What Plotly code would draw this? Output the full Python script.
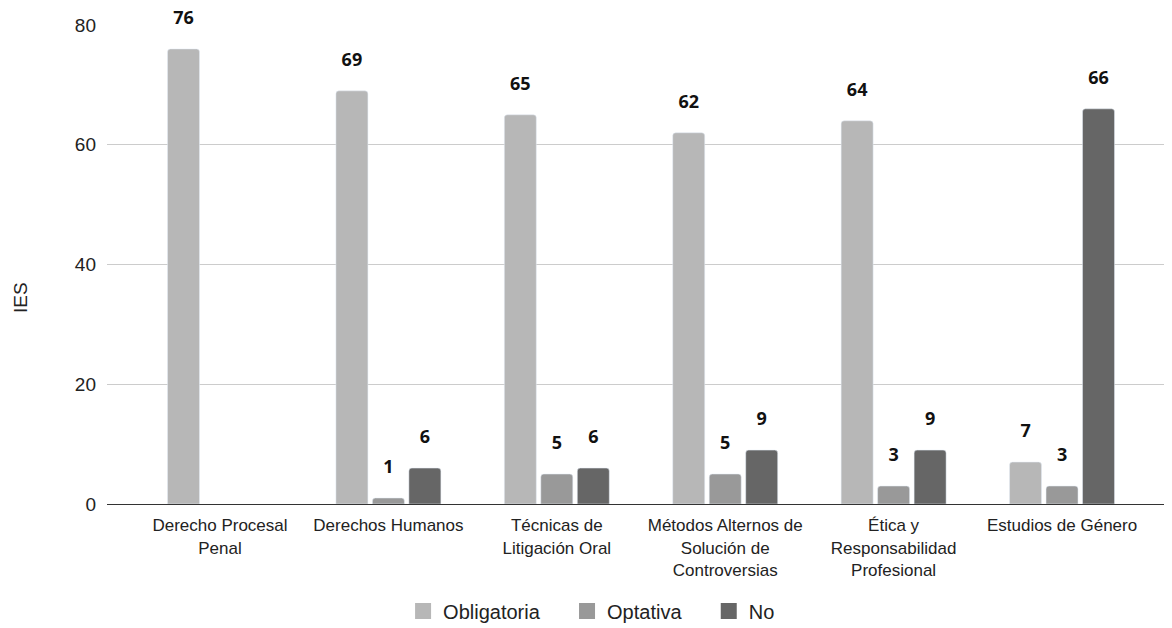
import plotly.graph_objects as go

categories = [
    "Derecho Procesal<br>Penal",
    "Derechos Humanos",
    "Técnicas de<br>Litigación Oral",
    "Métodos Alternos de<br>Solución de<br>Controversias",
    "Ética y<br>Responsabilidad<br>Profesional",
    "Estudios de Género",
]
obligatoria = [76, 69, 65, 62, 64, 7]
optativa = [None, 1, 5, 5, 3, 3]
no_vals = [None, 6, 6, 9, 9, 66]

series = [
    ("Obligatoria", obligatoria, "#b7b7b7"),
    ("Optativa", optativa, "#999999"),
    ("No", no_vals, "#666666"),
]
legend_pad = "\u00a0" * 4

fig = go.Figure()
for name, vals, color in series:
    fig.add_trace(go.Bar(
        x=categories, y=vals, name=name, marker_color=color,
        showlegend=False,
        texttemplate="<span style='font-size:18px'><b>%{y}</b></span><br>\u00a0",
        textposition="outside",
        constraintext="none",
        cliponaxis=False,
        textfont=dict(family="Open Sans", size=14, color="#111111"),
        hoverinfo="skip",
    ))
for i, (name, vals, color) in enumerate(series):
    label = name + (legend_pad if i < len(series) - 1 else "")
    fig.add_trace(go.Scatter(
        x=[None], y=[None], mode="markers", name=label,
        marker=dict(symbol="square", size=20, color=color),
    ))

fig.update_layout(
    width=1164, height=620,
    margin=dict(l=99, r=0, t=17, b=124, autoexpand=False),
    paper_bgcolor="white", plot_bgcolor="white",
    barmode="group", bargap=0.35, bargroupgap=0.123,
    barcornerradius=3,
    font=dict(family="Liberation Sans, Arial", color="#222222"),
    legend=dict(
        orientation="h", x=0.455, xanchor="center", y=-0.2234, yanchor="middle",
        font=dict(size=20, color="#222222"), itemsizing="trace",
    ),
    annotations=[dict(
        text="IES", textangle=-90, xref="paper", yref="paper",
        x=-0.0817, y=0.432, xanchor="center", yanchor="middle",
        showarrow=False, font=dict(size=19, color="#222222"),
    )],
)
fig.update_xaxes(
    range=[-0.671, 5.653], tickfont=dict(size=17, color="#222222"),
    showline=True, linecolor="#333333", linewidth=1, showgrid=False,
    ticks="", ticklabelstandoff=6,
)
fig.update_yaxes(
    range=[0, 80], tickvals=[0, 20, 40, 60, 80],
    tickfont=dict(size=19, color="#222222"),
    gridcolor="#cccccc", gridwidth=1, zeroline=False,
    ticklabelstandoff=10,
)

fig.write_html("out.html")
